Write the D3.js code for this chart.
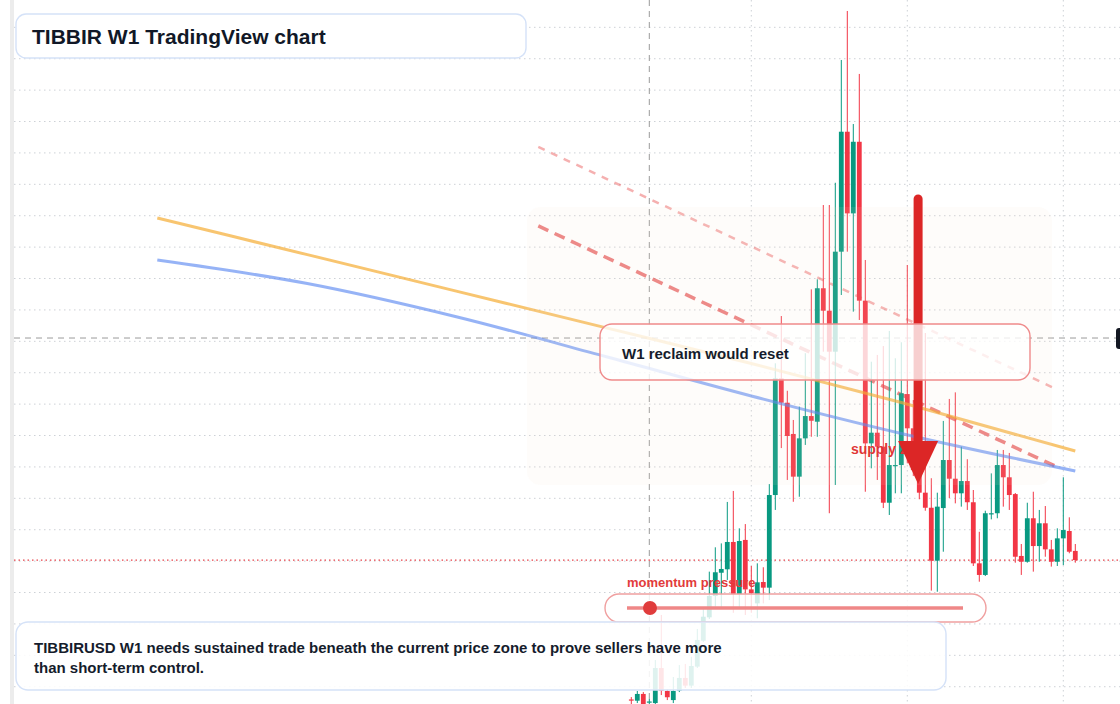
<!DOCTYPE html>
<html>
<head>
<meta charset="utf-8">
<script src="https://cdn.jsdelivr.net/npm/d3@7"></script>
<style>
  body { margin: 0; background: #fff; }
  svg { display: block; font-family: "Liberation Sans", Arial, sans-serif; }
</style>
</head>
<body>
<svg id="chart" width="1120" height="704"></svg>
<script>
  // weekly candles, bar index 0..74
  var opens = [0.0919,0.0911,0.0954,0.0899,0.0896,0.1119,0.0973,0.0915,0.0975,0.1056,
    0.1007,0.1128,0.1293,0.1442,0.1578,0.1726,0.1748,0.1922,0.1589,0.1935,
    0.1620,0.1531,0.1667,0.1631,0.2221,0.2964,0.2809,0.2610,0.2338,0.2582,
    0.2724,0.2688,0.3538,0.3395,0.3134,0.3771,0.4535,0.4015,0.4471,0.3459,
    0.2550,0.2618,0.2529,0.2172,0.2409,0.2412,0.2864,0.2646,0.2380,0.2236,
    0.2140,0.1803,0.2138,0.2444,0.2325,0.2232,0.2310,0.2175,0.1786,0.1712,
    0.2101,0.2105,0.2412,0.2334,0.2227,0.1833,0.1796,0.2073,0.1896,0.2041,
    0.1875,0.1796,0.1945,0.1992,0.1865];
  var highs = [0.0934,0.0973,0.0966,0.0922,0.1170,0.1457,0.0985,0.1062,0.1138,0.1145,
    0.1191,0.1368,0.1508,0.1733,0.1888,0.1913,0.2177,0.2247,0.2009,0.2036,
    0.1769,0.1786,0.1761,0.2291,0.3060,0.3361,0.2885,0.2699,0.2784,0.3124,
    0.3531,0.3595,0.4068,0.4068,0.4210,0.4992,0.5304,0.4584,0.4903,0.3718,
    0.3070,0.3113,0.3170,0.3266,0.3092,0.3194,0.3686,0.2826,0.2572,0.3253,
    0.2328,0.2236,0.2693,0.2833,0.2875,0.2529,0.2449,0.2253,0.1987,0.2121,
    0.2359,0.2508,0.2508,0.2489,0.2234,0.1909,0.2172,0.2242,0.2126,0.2151,
    0.1935,0.2009,0.2334,0.2079,0.1909];
  var lows = [0.0890,0.0896,0.0864,0.0890,0.0871,0.0947,0.0915,0.0896,0.0966,0.0992,
    0.0992,0.1119,0.1285,0.1431,0.1510,0.1501,0.1680,0.1471,0.1501,0.1457,
    0.1471,0.1436,0.1531,0.1552,0.2126,0.2520,0.2317,0.2178,0.2210,0.2540,
    0.2592,0.2592,0.3134,0.2105,0.2285,0.3495,0.3771,0.3389,0.3336,0.2242,
    0.2391,0.2317,0.2138,0.2094,0.2232,0.2232,0.2423,0.2342,0.2194,0.2121,
    0.1612,0.1605,0.1860,0.2202,0.2168,0.2147,0.2126,0.1769,0.1669,0.1705,
    0.2066,0.2073,0.2147,0.2126,0.1790,0.1712,0.1790,0.1733,0.1796,0.1828,
    0.1765,0.1769,0.1775,0.1850,0.1790];
  var closes = [0.0912,0.0954,0.0890,0.0906,0.1119,0.0975,0.0933,0.0973,0.1056,0.1007,
    0.1132,0.1298,0.1446,0.1578,0.1729,0.1750,0.1922,0.1589,0.1928,0.1620,
    0.1595,0.1665,0.1631,0.2221,0.2964,0.2809,0.2597,0.2338,0.2582,0.2724,
    0.2694,0.3538,0.3395,0.3134,0.3771,0.4535,0.4015,0.4471,0.3459,0.2550,
    0.2618,0.2529,0.2172,0.2412,0.2412,0.2869,0.2646,0.2380,0.2236,0.2140,
    0.1803,0.2147,0.2444,0.2325,0.2232,0.2310,0.2175,0.1786,0.1712,0.2105,
    0.2105,0.2412,0.2334,0.2221,0.1828,0.1796,0.2073,0.1896,0.2041,0.1875,
    0.1796,0.1945,0.1998,0.1860,0.1807];

  // moving averages (sampled bars, bars before 0 are history off-screen for candles)
  var maBars = [-79, -54, -29, -4, 20, 45, 74];
  var maOrange = [0.3986, 0.3752, 0.3518, 0.3284, 0.3059, 0.2810, 0.2501];
  var maBlue = [0.3718, 0.3568, 0.3355, 0.3100, 0.2852, 0.2613, 0.2374];

  // trend lines
  var upperTrendBars = [-15.5, 70.1];
  var upperTrendPrices = [0.4438, 0.2909];
  var lowerTrendBars = [-15.5, 70.6];
  var lowerTrendPrices = [0.3935, 0.2406];

  // supply zone
  var zoneBars = [-17.4, 70.1];
  var zonePrices = [0.4056, 0.2285];

  // arrow: bar, from price, head base price, tip price
  var arrowBar = 47.8;
  var arrowPrices = [0.4132, 0.2565, 0.2291];
  var supplyLabelBar = 36.6;
  var supplyLabelPrice = 0.2482;

  var gridPrices = [0.52,0.50,0.48,0.46,0.44,0.42,0.40,0.38,0.36,0.34,0.32,
    0.30,0.28,0.26,0.24,0.22,0.20,0.18,0.16,0.14,0.12,0.10];
  var gridBars = [20, 46, 72];
  var crossBar = 3;
  var crossPrice = 0.3221;

  var W = 1120, H = 704, plotLeft = 14;
  var green = "#089981", red = "#f23645";

  var svg = d3.select("#chart");

  var x = d3.scaleLinear().domain([0, 74]).range([631.3, 1075.3]);
  var y = d3.scaleLinear().domain([0.0890, 0.5374]).range([704, 0]);

  svg.append("rect").attr("width", W).attr("height", H).attr("fill", "#fff");

  // left edge strip
  svg.append("rect").attr("x", 10).attr("y", 0).attr("width", 4).attr("height", H).attr("fill", "#ececec");

  // grid
  svg.append("g").selectAll("line").data(gridPrices).enter().append("line")
      .attr("x1", plotLeft).attr("x2", W)
      .attr("y1", function(d) { return y(d); }).attr("y2", function(d) { return y(d); })
      .attr("stroke", "#cdd1d6").attr("stroke-width", 1).attr("stroke-dasharray", "1.5,3.5");
  svg.append("g").selectAll("line").data(gridBars).enter().append("line")
      .attr("x1", function(d) { return x(d); }).attr("x2", function(d) { return x(d); })
      .attr("y1", 0).attr("y2", H)
      .attr("stroke", "#cdd1d6").attr("stroke-width", 1).attr("stroke-dasharray", "1.5,3.5");

  // crosshair
  svg.append("line").attr("x1", plotLeft).attr("x2", W)
      .attr("y1", y(crossPrice)).attr("y2", y(crossPrice))
      .attr("stroke", "#9a9a9a").attr("stroke-dasharray", "6,5");
  svg.append("line").attr("x1", x(crossBar)).attr("x2", x(crossBar))
      .attr("y1", 0).attr("y2", H)
      .attr("stroke", "#9a9a9a").attr("stroke-dasharray", "6,5");

  // last price line
  svg.append("line").attr("x1", plotLeft).attr("x2", W)
      .attr("y1", y(closes[closes.length - 1])).attr("y2", y(closes[closes.length - 1]))
      .attr("stroke", "#e8434a").attr("stroke-width", 1.3).attr("stroke-dasharray", "1.5,3");

  // trend lines
  var trend = d3.line().x(function(d) { return x(d[0]); }).y(function(d) { return y(d[1]); });
  svg.append("path").datum(d3.zip(upperTrendBars, upperTrendPrices))
      .attr("d", trend).attr("fill", "none")
      .attr("stroke", "rgba(232,80,80,0.45)").attr("stroke-width", 2.5).attr("stroke-dasharray", "7,7");
  svg.append("path").datum(d3.zip(lowerTrendBars, lowerTrendPrices))
      .attr("d", trend).attr("fill", "none")
      .attr("stroke", "rgba(224,50,50,0.62)").attr("stroke-width", 3.5).attr("stroke-dasharray", "11,7");

  // candles
  var candles = d3.range(opens.length).map(function(i) {
    return {i: i, o: opens[i], h: highs[i], l: lows[i], c: closes[i]};
  });
  var cg = svg.append("g").selectAll("g").data(candles).enter().append("g");
  cg.append("line")
      .attr("x1", function(d) { return x(d.i); }).attr("x2", function(d) { return x(d.i); })
      .attr("y1", function(d) { return y(d.h); }).attr("y2", function(d) { return y(d.l); })
      .attr("stroke", function(d) { return d.c >= d.o ? green : red; }).attr("stroke-width", 1);
  cg.append("rect")
      .attr("x", function(d) { return x(d.i) - 2.4; })
      .attr("width", 4.8)
      .attr("y", function(d) { return y(Math.max(d.o, d.c)); })
      .attr("height", function(d) { return Math.max(1.2, Math.abs(y(d.o) - y(d.c))); })
      .attr("fill", function(d) { return d.c >= d.o ? green : red; });

  // moving averages
  var ma = d3.line().x(function(d) { return x(d[0]); }).y(function(d) { return y(d[1]); })
      .curve(d3.curveMonotoneX);
  svg.append("path").datum(d3.zip(maBars, maBlue)).attr("d", ma).attr("fill", "none")
      .attr("stroke", "rgba(80,128,240,0.6)").attr("stroke-width", 3);
  svg.append("path").datum(d3.zip(maBars, maOrange)).attr("d", ma).attr("fill", "none")
      .attr("stroke", "rgba(245,166,35,0.65)").attr("stroke-width", 3);

  // supply zone shading
  svg.append("rect")
      .attr("x", x(zoneBars[0])).attr("y", y(zonePrices[0]))
      .attr("width", x(zoneBars[1]) - x(zoneBars[0]))
      .attr("height", y(zonePrices[1]) - y(zonePrices[0]))
      .attr("rx", 14)
      .attr("fill", "rgb(250,222,202)").attr("fill-opacity", 0.1);

  svg.append("text").attr("x", x(supplyLabelBar)).attr("y", y(supplyLabelPrice))
      .attr("font-size", 14).attr("font-weight", 700).attr("fill", "#e03636")
      .text("supply zone");

  // arrow
  var ax = x(arrowBar);
  svg.append("line").attr("x1", ax).attr("x2", ax)
      .attr("y1", y(arrowPrices[0]) + 4).attr("y2", y(arrowPrices[1]) + 2)
      .attr("stroke", "#dc2626").attr("stroke-width", 9).attr("stroke-linecap", "round");
  svg.append("path")
      .attr("d", "M" + (ax - 20) + "," + y(arrowPrices[1]) + "L" + (ax + 20) + "," + y(arrowPrices[1]) +
                 "L" + ax + "," + y(arrowPrices[2]) + "Z")
      .attr("fill", "#dc2626");

  // momentum pressure
  svg.append("text").attr("x", 627).attr("y", 587)
      .attr("font-size", 13).attr("font-weight", 700).attr("fill", "#e23b3b")
      .text("momentum pressure");
  svg.append("rect").attr("x", 605).attr("y", 594).attr("width", 381).attr("height", 28).attr("rx", 14)
      .attr("fill", "#fff").attr("fill-opacity", 0.82)
      .attr("stroke", "#f0a0a0").attr("stroke-width", 1.4);
  svg.append("line").attr("x1", 627).attr("x2", 963).attr("y1", 608).attr("y2", 608)
      .attr("stroke", "#ef8787").attr("stroke-width", 3.5);
  svg.append("circle").attr("cx", 650).attr("cy", 608).attr("r", 7).attr("fill", "#e03c3c");

  // callout
  svg.append("rect").attr("x", 600).attr("y", 324).attr("width", 430).attr("height", 56).attr("rx", 12)
      .attr("fill", "#fff").attr("fill-opacity", 0.78)
      .attr("stroke", "#ef8b8b").attr("stroke-width", 1.4);
  svg.append("text").attr("x", 622).attr("y", 359)
      .attr("font-size", 15).attr("font-weight", 700).attr("fill", "#151c2c")
      .text("W1 reclaim would reset");

  // bottom note
  svg.append("rect").attr("x", 16).attr("y", 622).attr("width", 930).attr("height", 68).attr("rx", 12)
      .attr("fill", "#fff").attr("fill-opacity", 0.87)
      .attr("stroke", "#d5e2f8").attr("stroke-width", 1.4);
  var note = svg.append("text").attr("font-size", 15).attr("font-weight", 700).attr("fill", "#151c2c");
  note.append("tspan").attr("x", 34).attr("y", 653)
      .text("TIBBIRUSD W1 needs sustained trade beneath the current price zone to prove sellers have more");
  note.append("tspan").attr("x", 34).attr("y", 673).text("than short-term control.");

  // title
  svg.append("rect").attr("x", 16).attr("y", 14).attr("width", 510).attr("height", 44).attr("rx", 10)
      .attr("fill", "#fff").attr("stroke", "#d5e2f8").attr("stroke-width", 1.4);
  svg.append("text").attr("x", 32).attr("y", 44)
      .attr("font-size", 21).attr("font-weight", 700).attr("fill", "#111827")
      .text("TIBBIR W1 TradingView chart");

  // crosshair price tag (cut by the right edge)
  svg.append("rect").attr("x", 1116).attr("y", y(crossPrice) - 10).attr("width", 60).attr("height", 21)
      .attr("rx", 3).attr("fill", "#131722");
</script>
</body>
</html>
